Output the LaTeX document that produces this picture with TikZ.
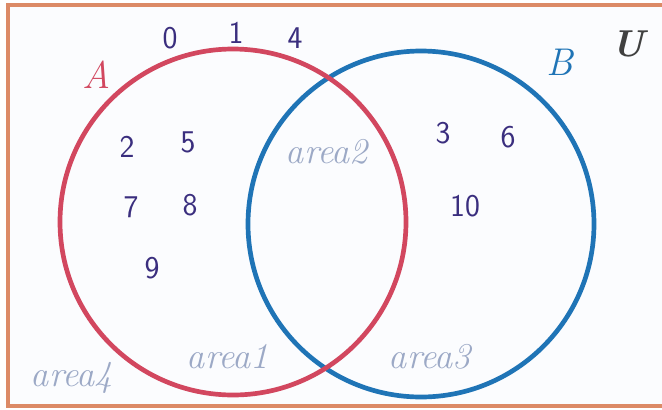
\documentclass[tikz,border=0pt]{standalone}
\usepackage{tikz}
\usetikzlibrary{positioning}

\definecolor{rougeA}{HTML}{D2475F}
\definecolor{bleuB}{HTML}{1F74B6}
\definecolor{cadreU}{HTML}{DC8A66}
\definecolor{encre}{HTML}{3A2E7E}
\definecolor{zonegris}{HTML}{9CA9C6}
\definecolor{fond}{HTML}{FBFCFE}

\begin{document}
\begin{tikzpicture}[
  x=0.03cm, y=-0.03cm,
  cadre/.style={
    draw=cadreU,
    line width=2.6pt
  },
  ensemble/.style={
    line width=4pt
  },
  chiffre/.style={
    text=encre,
    font=\sffamily\fontsize{27}{29}\selectfont,
    inner sep=0pt
  },
  nom/.style={
    font=\itshape\fontsize{33}{35}\selectfont,
    inner sep=0pt
  },
  zone/.style={
    text=zonegris,
    font=\itshape\fontsize{31}{33}\selectfont,
    inner sep=0pt
  }
]
  \useasboundingbox (0,0) rectangle (662,409);

  % Univers
  \fill[fond] (8,5) rectangle (662,406);
  \draw[cadre] (664,5) -- (8,5) -- (8,406) -- (664,406);

  % Ensembles
  \coordinate (cA) at (233,222);
  \coordinate (cB) at (421,224);
  \draw[ensemble, draw=bleuB] (cB) circle[radius=173];
  \draw[ensemble, draw=rougeA] (cA) circle[radius=173];

  % Noms des ensembles
  \node[nom, text=rougeA] (nA) at (97,75) {A};
  \node[nom, text=bleuB] (nB) at (560,62) {B};
  \node[nom, text=black!75, font=\bfseries\itshape\fontsize{32}{34}\selectfont] (nU) at (628,44) {U};

  % Zones
  \node[zone] (z1) at (228,357) {area1};
  \node[zone] (z2) at (327,152) {area2};
  \node[zone] (z3) at (430,357) {area3};
  \node[zone] (z4) at (72,378) {area4};

  % Elements
  \foreach \n/\x/\y/\lab in {e0/170/38/0, e1/236/33/1, e4/295/38/4,
                             e2/127/147/2, e5/188/142/5, e7/131/207/7,
                             e8/190/205/8, e9/152/268/9,
                             e3/443/133/3, e6/508/137/6, e10/465/206/10} {
    \node[chiffre] (\n) at (\x,\y) {\lab};
  }
\end{tikzpicture}
\end{document}
